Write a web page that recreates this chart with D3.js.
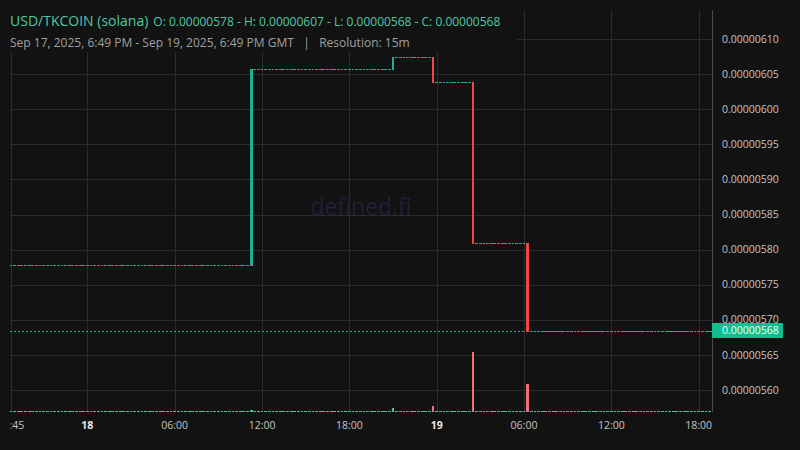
<!DOCTYPE html>
<html>
<head>
<meta charset="utf-8">
<script src="https://cdn.jsdelivr.net/npm/d3@7"></script>
<style>
  html, body { margin: 0; padding: 0; background: #121212; }
  svg { display: block; font-family: "Open Sans", "Noto Sans", sans-serif; }
</style>
</head>
<body>
<svg id="chart" width="800" height="450"></svg>
<script>
// ---- data ----
const pairTitle = "USD/TKCOIN (solana)";
const ohlcText = "O: 0.00000578 - H: 0.00000607 - L: 0.00000568 - C: 0.00000568";
const rangeText = "Sep 17, 2025, 6:49 PM - Sep 19, 2025, 6:49 PM GMT   |   Resolution: 15m";
const watermark = "defined.fi";

const firstCandle = "2025-09-17T18:45:00Z";
const lastCandle = "2025-09-19T18:45:00Z";
const firstPrice = 0.000005777;
const flatVolume = 0.8;

// candles where price moved (15m resolution)
const moveTimes  = ["2025-09-18T11:15:00Z", "2025-09-18T21:00:00Z", "2025-09-18T23:45:00Z", "2025-09-19T02:30:00Z", "2025-09-19T06:15:00Z"];
const moveOpen   = [0.000005777, 0.000006057, 0.000006073, 0.000006038, 0.000005808];
const moveClose  = [0.000006057, 0.000006073, 0.000006038, 0.000005808, 0.000005684];
const moveVolume = [1.7, 3.7, 5.7, 59.7, 27.7];

const lastPrice = 0.000005684;

const priceTicks = [0.0000056, 0.00000565, 0.0000057, 0.00000575, 0.0000058, 0.00000585, 0.0000059, 0.00000595, 0.000006, 0.00000605, 0.0000061];
const timeTicks = ["2025-09-17T18:45:00Z", "2025-09-18T00:00:00Z", "2025-09-18T06:00:00Z", "2025-09-18T12:00:00Z", "2025-09-18T18:00:00Z", "2025-09-19T00:00:00Z", "2025-09-19T06:00:00Z", "2025-09-19T12:00:00Z", "2025-09-19T18:00:00Z"];
const timeTickLabels = ["18:45", "18", "06:00", "12:00", "18:00", "19", "06:00", "12:00", "18:00"];
const timeTickBold = [false, true, false, false, false, true, false, false, false];

// ---- build candle table ----
const moveMap = new Map(moveTimes.map((t, i) => [+new Date(t), i]));
const slots = d3.utcMinute.every(15).range(new Date(firstCandle), d3.utcMinute.offset(new Date(lastCandle), 1));
let cur = firstPrice;
const candles = slots.map(t => {
  const i = moveMap.get(+t);
  if (i !== undefined) {
    const c = { t, open: moveOpen[i], close: moveClose[i], vol: moveVolume[i] };
    cur = moveClose[i];
    return c;
  }
  return { t, open: cur, close: cur, vol: flatVolume };
});

// ---- layout ----
const W = 800, H = 450;
const plot = { left: 10, right: 712, top: 10, bottom: 412 };
const colors = {
  bg: "#121212", grid: "#2c2c2c", axis: "#4a4a4a",
  up: "#1fae94", down: "#f04848",
  volUp: "#4fbf9c", volDown: "#f0707f",
  title: "#4fc9a5", sub: "#a0a0a0", tick: "#c4c4c4", tickBold: "#e6e6e6",
  badge: "#0fbf8e", watermark: "#221f3a"
};

const svg = d3.select("#chart");
svg.append("rect").attr("width", W).attr("height", H).attr("fill", colors.bg);

const x = d3.scaleUtc()
  .domain([new Date("2025-09-17T18:41:00Z"), new Date("2025-09-19T18:55:00Z")])
  .range([plot.left, plot.right]);
const y = d3.scaleLinear()
  .domain([0.0000055687, 0.0000061413])
  .range([plot.bottom, plot.top]);
const yVol = d3.scaleLinear().domain([0, 60]).range([0, 60]);

const defs = svg.append("defs");
defs.append("clipPath").attr("id", "plotClip")
  .append("rect").attr("x", plot.left).attr("y", plot.top)
  .attr("width", plot.right - plot.left).attr("height", plot.bottom - plot.top);
defs.append("clipPath").attr("id", "xLabelClip")
  .append("rect").attr("x", plot.left + 0.5).attr("y", plot.bottom)
  .attr("width", plot.right - plot.left + 60).attr("height", H - plot.bottom);

// grid
const grid = svg.append("g").attr("clip-path", "url(#plotClip)");
grid.selectAll("line.h").data(priceTicks).join("line")
  .attr("x1", plot.left).attr("x2", plot.right)
  .attr("y1", d => Math.round(y(d)) + 0.5).attr("y2", d => Math.round(y(d)) + 0.5)
  .attr("stroke", colors.grid).attr("stroke-width", 1);
grid.selectAll("line.v").data(timeTicks).join("line")
  .attr("x1", d => Math.round(x(new Date(d))) + 0.5).attr("x2", d => Math.round(x(new Date(d))) + 0.5)
  .attr("y1", plot.top).attr("y2", plot.bottom)
  .attr("stroke", colors.grid).attr("stroke-width", 1);

// watermark
svg.append("text").attr("x", 361).attr("y", 215)
  .attr("text-anchor", "middle").attr("font-size", 23)
  .attr("fill", colors.watermark).text(watermark);

// last price dotted line
svg.append("line")
  .attr("x1", plot.left).attr("x2", plot.right)
  .attr("y1", Math.floor(y(lastPrice)) + 0.5).attr("y2", Math.floor(y(lastPrice)) + 0.5)
  .attr("stroke", colors.up).attr("stroke-width", 1).attr("stroke-dasharray", "2,2");

const half = 1.4;
const px0 = d => Math.round(x(d.t) - half);
const px1 = d => Math.round(x(d.t) + half);
const marks = svg.append("g").attr("clip-path", "url(#plotClip)");

// volume bars
marks.selectAll("rect.vol").data(candles).join("rect")
  .attr("x", px0).attr("width", d => px1(d) - px0(d))
  .attr("y", d => plot.bottom - Math.max(1, Math.round(yVol(d.vol))))
  .attr("height", d => Math.max(1, Math.round(yVol(d.vol))))
  .attr("fill", d => d.close < d.open ? colors.volDown : colors.volUp);

// candle bodies
const bodyTop = d => Math.floor(Math.min(y(d.open), y(d.close)));
const bodyBot = d => Math.floor(Math.max(y(d.open), y(d.close))) + 1;
marks.selectAll("rect.body").data(candles).join("rect")
  .attr("x", px0).attr("width", d => px1(d) - px0(d))
  .attr("y", bodyTop)
  .attr("height", d => bodyBot(d) - bodyTop(d))
  .attr("fill", d => d.close < d.open ? colors.down : colors.up);

// legend background (hides grid under the header)
svg.append("rect").attr("x", 0).attr("y", 0).attr("width", 517).attr("height", 52).attr("fill", colors.bg);

const head = svg.append("text").attr("x", 10).attr("y", 26);
head.append("tspan").attr("font-size", 14).attr("fill", colors.title).text(pairTitle);
head.append("tspan").attr("font-size", 12).attr("fill", colors.title).attr("dx", 5).text(ohlcText);
svg.append("text").attr("x", 10).attr("y", 47).attr("font-size", 12)
  .attr("fill", colors.sub).style("white-space", "pre").text(rangeText);

// right axis
svg.append("line").attr("x1", plot.right + 0.5).attr("x2", plot.right + 0.5)
  .attr("y1", plot.top).attr("y2", plot.bottom).attr("stroke", colors.axis);
svg.selectAll("text.py").data(priceTicks).join("text")
  .attr("x", 722).attr("y", d => y(d)).attr("dy", "0.35em")
  .attr("font-size", 10.5).attr("fill", colors.tick)
  .text(d => d3.format(".8f")(d));

// last price badge
const by = y(lastPrice);
svg.append("rect").attr("x", plot.right).attr("y", by - 8).attr("width", 71).attr("height", 15)
  .attr("rx", 1).attr("fill", colors.badge);
svg.append("text").attr("x", 722).attr("y", by - 0.5).attr("dy", "0.35em")
  .attr("font-size", 10.5).attr("fill", "#eafff6").text(d3.format(".8f")(lastPrice));

// bottom axis labels
svg.append("g").attr("clip-path", "url(#xLabelClip)")
  .selectAll("text").data(timeTicks).join("text")
  .attr("x", d => x(new Date(d))).attr("y", 425).attr("dy", "0.35em")
  .attr("text-anchor", "middle").attr("font-size", 10.5)
  .attr("font-weight", (d, i) => timeTickBold[i] ? "bold" : "normal")
  .attr("fill", (d, i) => timeTickBold[i] ? colors.tickBold : colors.tick)
  .text((d, i) => timeTickLabels[i]);
</script>
</body>
</html>
